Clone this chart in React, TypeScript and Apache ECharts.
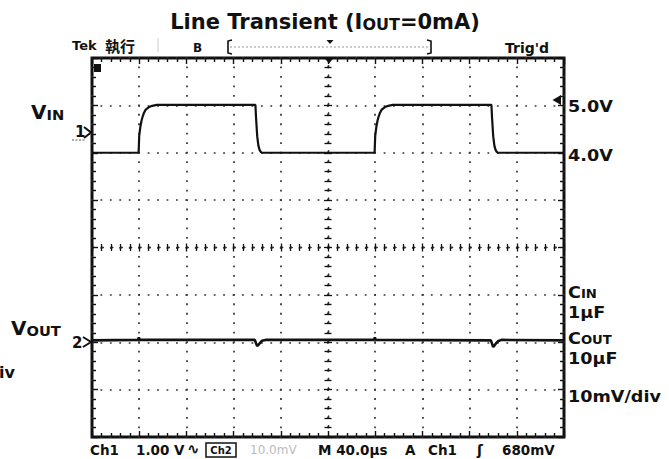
import React, { useEffect, useRef } from 'react';
import * as echarts from 'echarts';

// Oscilloscope scales
const TIME_MIN = -200; // µs (M 40.0µs/div, 10 div)
const TIME_MAX = 200;
const TIME_DIV = 40;
const DIV_MIN = -4; // vertical graticule, 8 div
const DIV_MAX = 4;
const VIN_MIN = -2; // V, 1.00 V/div
const VIN_MAX = 6;
const VOUT_MIN = -20; // mV deviation, 10 mV/div
const VOUT_MAX = 60;

// Ch1: VIN (V)
const vinTime = [-200, -160.5, -160, -159, -158, -157, -156, -154.5, -152, -149, -145,
  -61.5, -61, -60, -59, -58, -57, -56,
  39.5, 40, 41, 42, 43, 44, 45.5, 48, 51, 55,
  138.5, 139, 140, 141, 142, 143, 144, 200];
const vinVolt = [4.0, 4.0, 4.35, 4.55, 4.68, 4.77, 4.84, 4.91, 4.96, 4.99, 5.01,
  5.01, 4.75, 4.35, 4.15, 4.06, 4.02, 4.0,
  4.0, 4.35, 4.55, 4.68, 4.77, 4.84, 4.91, 4.96, 4.99, 5.01,
  5.01, 4.75, 4.35, 4.15, 4.06, 4.02, 4.0, 4.0];

// Ch2: VOUT deviation (mV)
const voutTime = [-200, -161, -160.3, -159.5, -62, -61, -60, -59, -57.5, -56, -53,
  39, 39.7, 40.5, 138, 139, 140, 141, 142.5, 144, 147, 200];
const voutMv = [0.4, 0.5, 1.0, 0.5, 0.5, -0.2, -0.8, -0.6, -0.1, 0.3, 0.5,
  0.5, 1.0, 0.5, 0.4, -0.3, -1.0, -0.7, -0.2, 0.2, 0.5, 0.4];

const TITLE = 'Line Transient (I{s|OUT}=0mA)';
const rightLabels = ['5.0V', '4.0V', 'C{s|IN}', '1µF', 'C{s|OUT}', '10µF', '10mV/div'];
const statusLabels = ['Ch1', '1.00 V', '∿', 'Ch2', '10.0mV', 'M 40.0µs', 'A', 'Ch1', 'ʃ', '680mV'];

const INK = '#111';
const FONT = '"DejaVu Sans", "Liberation Sans", sans-serif';

function txt(x: number, y: number, text: string, size: number, extra: any = {}) {
  const { scaleX, align, fill, weight, rich, family } = extra;
  const style: any = {
    text,
    font: `${weight ?? 'bold'} ${size}px ${family ?? FONT}`,
    fill: fill ?? INK,
    align: align ?? 'left',
    textAlign: align ?? 'left',
    verticalAlign: 'middle',
    textVerticalAlign: 'middle',
    rich,
  };
  return { type: 'text', x, y, scaleX: scaleX ?? 1, z: 10, style };
}

function smallCaps(size: number) {
  return { s: { font: `bold ${size}px ${FONT}`, fill: INK, verticalAlign: 'bottom' } };
}

export default function App() {
  const ref = useRef<HTMLDivElement>(null);

  useEffect(() => {
    if (!ref.current) return;
    const chart = echarts.init(ref.current, undefined, { renderer: 'svg' });

    const dotV = [1.8, 7.675];
    const dotH = [1.8, 7.64];

    const borderX = (position: string) => ({
      type: 'value', min: TIME_MIN, max: TIME_MAX, interval: TIME_DIV, position,
      axisLine: { show: false, onZero: false },
      axisTick: { show: true, inside: true, length: 6, lineStyle: { color: INK, width: 1.4 } },
      minorTick: { show: true, splitNumber: 5, length: 4, lineStyle: { color: INK, width: 1.4 } },
      axisLabel: { show: false },
      splitLine: position === 'bottom'
        ? { show: true, lineStyle: { color: '#333', width: 1.7, type: dotV, dashOffset: 0.9 } }
        : { show: false },
    });
    const borderY = (position: string) => ({
      type: 'value', min: DIV_MIN, max: DIV_MAX, interval: 1, position,
      axisLine: { show: false, onZero: false },
      axisTick: { show: true, inside: true, length: 6, lineStyle: { color: INK, width: 1.4 } },
      minorTick: { show: true, splitNumber: 5, length: 4, lineStyle: { color: INK, width: 1.4 } },
      axisLabel: { show: false },
      splitLine: position === 'left'
        ? { show: true, lineStyle: { color: '#333', width: 1.7, type: dotH, dashOffset: 0.9 } }
        : { show: false },
    });
    const centerX = (inside: boolean) => ({
      type: 'value', min: TIME_MIN, max: TIME_MAX, interval: TIME_DIV, position: 'bottom',
      axisLine: { show: true, onZero: true, onZeroAxisIndex: 0, lineStyle: { color: '#333', width: 1.4, type: dotH } },
      axisTick: { show: true, inside, length: 4, lineStyle: { color: INK, width: 1.3 } },
      minorTick: { show: true, splitNumber: 5, length: 3.5, lineStyle: { color: INK, width: 1.3 } },
      axisLabel: { show: false },
      splitLine: { show: false },
    });
    const centerY = (inside: boolean) => ({
      type: 'value', min: DIV_MIN, max: DIV_MAX, interval: 1, position: 'left',
      axisLine: { show: true, onZero: true, onZeroAxisIndex: 0, lineStyle: { color: '#333', width: 1.4, type: dotV } },
      axisTick: { show: true, inside, length: 4, lineStyle: { color: INK, width: 1.3 } },
      minorTick: { show: true, splitNumber: 5, length: 3.5, lineStyle: { color: INK, width: 1.3 } },
      axisLabel: { show: false },
      splitLine: { show: false },
    });

    const graphic: any[] = [
      // title
      txt(325, 22, TITLE, 21, { align: 'center', rich: smallCaps(16) }),
      // top status row
      txt(72, 45.5, 'Tek', 13),
      txt(105, 45, '執行', 15, { family: '"Noto Sans CJK TC", sans-serif' }),
      { type: 'line', z: 10, shape: { x1: 158, y1: 38, x2: 158, y2: 52 }, style: { stroke: '#ddd', lineWidth: 1.5 } },
      txt(193, 48, 'B', 12),
      { type: 'polyline', z: 10, shape: { points: [[232, 40], [228, 41], [228, 53], [232, 54]] }, style: { stroke: INK, lineWidth: 1.6, fill: null } },
      { type: 'polyline', z: 10, shape: { points: [[427, 40], [431, 41], [431, 53], [427, 54]] }, style: { stroke: INK, lineWidth: 1.6, fill: null } },
      { type: 'line', z: 10, shape: { x1: 230, y1: 47, x2: 429, y2: 47 }, style: { stroke: '#999', lineWidth: 1, lineDash: [2, 2] } },
      { type: 'polygon', z: 10, shape: { points: [[326.5, 40], [333.5, 40], [330, 44]] }, style: { fill: INK } },
      txt(505, 47.5, "Trig'd", 14),
      // graticule markers
      { type: 'polygon', z: 10, shape: { points: [[323.5, 57], [334.5, 57], [329, 63.5]] }, style: { fill: INK } },
      { type: 'polygon', z: 10, shape: { points: [[552.5, 100], [561, 95], [561, 105]] }, style: { fill: INK } },
      { type: 'rect', z: 10, shape: { x: 94, y: 64, width: 7, height: 8 }, style: { fill: INK } },
      // left labels
      txt(31, 113, 'V{s|IN}', 19, { rich: smallCaps(14), scaleX: 1.05 }),
      txt(75, 132, '1', 15),
      { type: 'polyline', z: 10, shape: { points: [[84, 127], [91, 132.5], [84, 138]] }, style: { stroke: INK, lineWidth: 2, fill: null } },
      { type: 'line', z: 10, shape: { x1: 72, y1: 140, x2: 85, y2: 140 }, style: { stroke: '#555', lineWidth: 1, lineDash: [2, 1.5] } },
      txt(11, 328.5, 'V{s|OUT}', 19, { rich: smallCaps(14), scaleX: 1.05 }),
      txt(72, 343, '2', 15),
      { type: 'polyline', z: 10, shape: { points: [[83, 337], [91, 342], [83, 347]] }, style: { stroke: INK, lineWidth: 2, fill: null } },
      txt(-1, 372, 'iv', 16),
      // right labels
      txt(568, 106, rightLabels[0], 16, { scaleX: 1.1 }),
      txt(568, 155, rightLabels[1], 16, { scaleX: 1.1 }),
      txt(568, 292, rightLabels[2], 16, { scaleX: 1.1, rich: smallCaps(12) }),
      txt(568, 312, rightLabels[3], 16, { scaleX: 1.1 }),
      txt(568, 338, rightLabels[4], 16, { scaleX: 1.1, rich: smallCaps(12) }),
      txt(568, 358, rightLabels[5], 16, { scaleX: 1.1 }),
      txt(568, 396, rightLabels[6], 16, { scaleX: 1.1 }),
      // bottom status row
      txt(90, 450, statusLabels[0], 13.5),
      txt(136, 450, statusLabels[1], 13.5),
      txt(187, 449, statusLabels[2], 15),
      { type: 'rect', z: 10, shape: { x: 206, y: 443, width: 30, height: 14 }, style: { fill: '#fff', stroke: INK, lineWidth: 1.5 } },
      txt(221, 450, statusLabels[3], 10, { align: 'center' }),
      txt(250, 450, statusLabels[4], 12, { weight: 'normal', fill: '#bbb' }),
      txt(318, 450, statusLabels[5], 13.5),
      txt(405, 450, statusLabels[6], 13.5),
      txt(428, 450, statusLabels[7], 13.5),
      txt(477, 450, statusLabels[8], 14),
      txt(502, 450, statusLabels[9], 13.5),
    ];

    chart.setOption({
      animation: false,
      backgroundColor: '#fff',
      grid: {
        left: 92, top: 58, width: 472, height: 379,
        show: true, borderColor: INK, borderWidth: 3, backgroundColor: 'transparent',
        containLabel: false, outerBoundsMode: 'none',
      },
      xAxis: [borderX('bottom'), borderX('top'), centerX(true), centerX(false)],
      yAxis: [
        borderY('left'), borderY('right'), centerY(true), centerY(false),
        { type: 'value', min: VIN_MIN, max: VIN_MAX, interval: 1, show: false, axisLine: { onZero: false } },
        { type: 'value', min: VOUT_MIN, max: VOUT_MAX, interval: 10, show: false, axisLine: { onZero: false } },
      ],
      series: [
        {
          name: 'VIN', type: 'line', xAxisIndex: 0, yAxisIndex: 4, showSymbol: false, z: 5,
          data: vinTime.map((t, i) => [t, vinVolt[i]]),
          lineStyle: { color: INK, width: 2.2 },
        },
        {
          name: 'VOUT', type: 'line', xAxisIndex: 0, yAxisIndex: 5, showSymbol: false, z: 5,
          data: voutTime.map((t, i) => [t, voutMv[i]]),
          lineStyle: { color: INK, width: 2.6 },
        },
      ],
      graphic,
    });

    return () => chart.dispose();
  }, []);

  return (
    <div
      ref={ref}
      style={{ position: 'fixed', left: 0, top: 0, width: 669, height: 459, background: '#fff' }}
    />
  );
}
